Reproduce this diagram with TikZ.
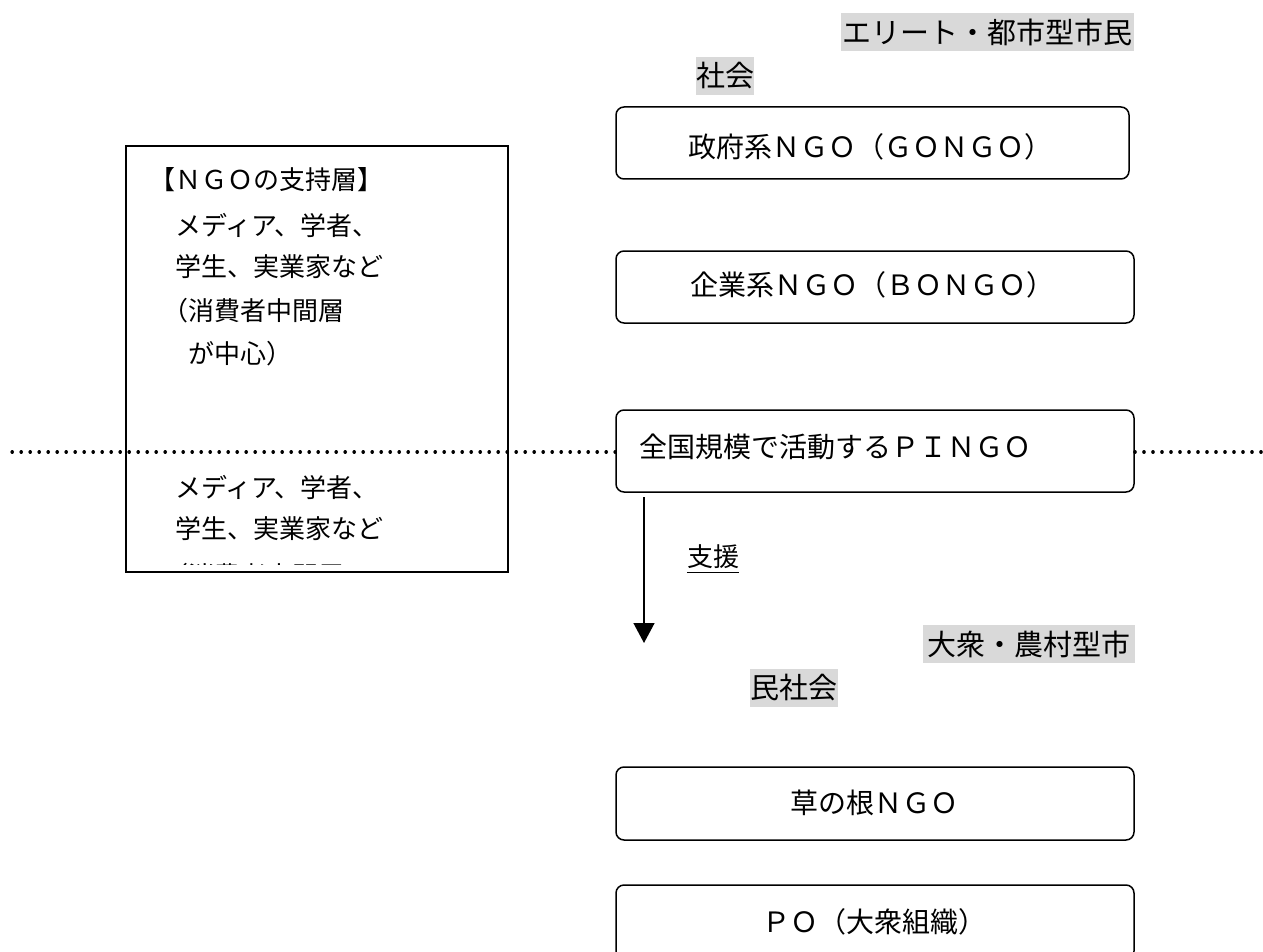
\documentclass[tikz,border=0pt]{standalone}
\usepackage{fontspec}
\setmainfont{Noto Sans CJK JP}
\usetikzlibrary{arrows.meta}
\begin{document}
\begin{tikzpicture}[x=1pt,y=-1pt,
  rbox/.style={draw, rounded corners=8pt, line width=1.5pt, inner sep=0pt},
  lbl/.style={fill=black!15, inner sep=0pt, minimum height=38pt, font=\fontsize{29}{34}\selectfont},
  boxtxt/.style={inner sep=0pt, font=\fontsize{28}{34}\selectfont},
  lefttxt/.style={inner sep=0pt, anchor=west, font=\fontsize{26}{32}\selectfont},
  dotline/.style={line width=3.2pt, line cap=round, dash pattern=on 0.4pt off 8.6pt}]
\useasboundingbox (0,0) rectangle (1263,952);

% shaded labels
\node[lbl, minimum width=293pt] (elite) at (987.5,32) {エリート・都市型市民};
\node[lbl, minimum width=56pt] (elite2) at (725,76) {社会};
\node[lbl, minimum width=212pt] (mass) at (1029,644) {大衆・農村型市};
\node[lbl, minimum width=88pt] (mass2) at (794,688) {民社会};

% rounded boxes
\node[rbox, minimum width=513pt, minimum height=72pt] (gongo) at (872.5,143) {};
\node[rbox, minimum width=518pt, minimum height=72pt] (bongo) at (875,287) {};
\node[rbox, minimum width=518pt, minimum height=82pt] (pingo) at (875,451) {};
\node[rbox, minimum width=518pt, minimum height=73pt] (kusa) at (875,803.5) {};
\node[rbox, minimum width=518pt, minimum height=74pt] (po) at (875,922) {};

\node[boxtxt, anchor=west] (gongot) at (688,147) {政府系ＮＧＯ（ＧＯＮＧＯ）};
\node[boxtxt, anchor=west] (bongot) at (690,285) {企業系ＮＧＯ（ＢＯＮＧＯ）};
\node[boxtxt, anchor=west] (pingot) at (639,447) {全国規模で活動するＰＩＮＧＯ};
\node[boxtxt] (kusat) at (874,803) {草の根ＮＧＯ};
\node[boxtxt] (pot) at (874,922) {ＰＯ（大衆組織）};

% dotted boundary
\coordinate (dl) at (12,452);
\coordinate (dr) at (1263,452);
\draw[dotline] (dl) -- (pingo.west |- dl);
\draw[dotline] (pingo.east |- dr) -- (dr);

% left box
\node[draw, line width=1.5pt, minimum width=382pt, minimum height=426pt, inner sep=0pt] (support) at (317,359) {};
\node[lefttxt] (s1) at (149,180) {【ＮＧＯの支持層】};
\node[lefttxt] (s2) at (175,225) {メディア、学者、};
\node[lefttxt] (s3) at (175,267) {学生、実業家など};
\node[lefttxt] (s4) at (162,311) {（消費者中間層};
\node[lefttxt] (s5) at (188,354) {が中心）};
\node[lefttxt] (s6) at (175,487) {メディア、学者、};
\node[lefttxt] (s7) at (175,529) {学生、実業家など};
\begin{scope}
  \clip (127,147) rectangle (507,564);
  \node[lefttxt] (s8) at (162,576) {（消費者中間層};
\end{scope}

% arrow
\coordinate (arrS) at (644,497);
\coordinate (arrE) at (644,643);
\draw[line width=1.5pt, -{Triangle[width=21pt,length=20pt]}] (arrS) -- (arrE);
\node[inner sep=0pt, font=\fontsize{26}{32}\selectfont] (sien) at (713,557) {支援};
\draw[line width=1.2pt] ([yshift=-3pt]sien.south west) -- ([yshift=-3pt]sien.south east);
\end{tikzpicture}
\end{document}
